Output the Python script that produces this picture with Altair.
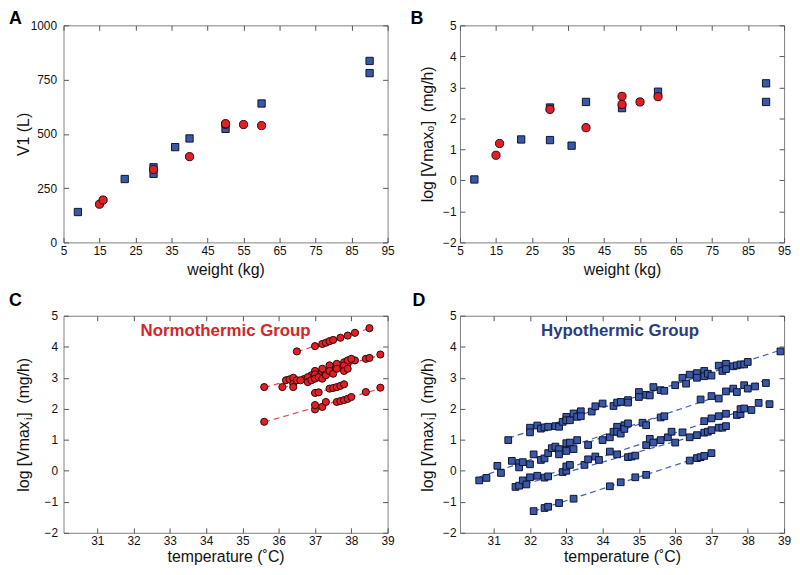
import altair as alt
import pandas as pd

FONT = "Liberation Sans"
RED = "#e41e25"
RED_EDGE = "#2a0808"
BLUE = "#3a58a6"
BLUE_EDGE = "#0d1433"
RED_LINE = "#e8474b"
BLUE_LINE = "#4060b8"
NAVY = "#2b3d7e"
RED_TXT = "#d4262c"
FRAME = "#808080"
TICK = "#555555"

W, H = 327, 219
NB = "\u00a0"

# ---------------- Panel A : V1 vs weight ----------------
a_hypo_weight = [9, 22, 30, 30, 36, 40, 50, 60, 90, 90]
a_hypo_v1 = [140, 292, 316, 346, 439, 479, 523, 640, 836, 780]
a_normo_weight = [15, 16, 30, 40, 50, 50, 55, 60]
a_normo_v1 = [176, 195, 336, 395, 544, 547, 543, 538]

# ---------------- Panel B : log Vmax0 vs weight ----------------
b_hypo_weight = [9, 22, 30, 30, 36, 40, 50, 60, 90, 90]
b_hypo_logv = [0.03, 1.32, 2.35, 1.30, 1.12, 2.53, 2.33, 2.86, 3.13, 2.53]
b_normo_weight = [15, 16, 30, 40, 50, 50, 55, 60]
b_normo_logv = [0.81, 1.19, 2.29, 1.70, 2.71, 2.45, 2.53, 2.70]

weight_ticks = [5, 15, 25, 35, 45, 55, 65, 75, 85, 95]
v1_ticks = [0, 250, 500, 750, 1000]
logv_ticks = [-2, -1, 0, 1, 2, 3, 4, 5]
temp_ticks = [31, 32, 33, 34, 35, 36, 37, 38, 39]

# ---------------- Panel C : normothermic subjects ----------------
n1_temp = [36.5, 37.0, 37.2, 37.3, 37.4, 37.5, 37.7, 37.9, 38.1, 38.5]
n1_logv = [3.85, 4.02, 4.09, 4.13, 4.18, 4.22, 4.29, 4.36, 4.45, 4.60]
n2_temp = [35.6, 36.2, 36.3, 36.4, 36.7, 36.9, 37.1, 37.3, 37.5, 37.7, 37.9, 38.1, 38.4, 38.5, 38.8]
n2_logv = [2.70, 2.92, 2.95, 3.00, 2.96, 3.08, 3.13, 3.18, 3.29, 3.34, 3.45, 3.56, 3.61, 3.64, 3.75]
n3_temp = [36.1, 36.4, 36.4, 36.5, 36.6, 36.8, 36.8, 36.9, 37.0, 37.0,
           37.0, 37.1, 37.2, 37.2, 37.3, 37.4, 37.4, 37.5, 37.6, 37.6,
           37.8, 37.8, 37.8, 37.9, 37.9, 38.0]
n3_logv = [2.70, 2.81, 2.70, 2.92, 2.92, 3.02, 2.86, 2.92, 3.22, 3.11,
           2.97, 3.02, 3.29, 2.97, 3.08, 3.40, 3.22, 3.13, 3.45, 3.29,
           3.50, 3.40, 3.22, 3.56, 3.29, 3.61]
n4_temp = [37.0, 37.1, 37.4, 37.5, 37.6, 37.7, 37.8]
n4_logv = [2.51, 2.53, 2.65, 2.67, 2.70, 2.74, 2.79]
n5_temp = [35.6, 37.0, 37.0, 37.2, 37.3, 37.6, 37.7, 37.8, 37.9, 38.0, 38.4, 38.8]
n5_logv = [1.58, 1.98, 2.12, 2.06, 2.22, 2.22, 2.25, 2.28, 2.32, 2.38, 2.54, 2.68]

# ---------------- Panel D : hypothermic subjects ----------------
h1_temp = [31.4, 32.0, 32.0, 32.2, 32.3, 32.4, 32.5, 32.7, 32.8, 32.9,
           33.0, 33.0, 33.1, 33.2, 33.3, 33.4, 33.4, 33.7, 33.8, 34.0,
           34.3, 34.4, 34.5, 34.7, 34.7, 35.0, 35.0, 35.2, 35.3, 35.4,
           35.6, 35.7, 36.0, 36.2, 36.3, 36.4, 36.6, 36.6, 36.8, 36.8,
           36.9, 37.0, 37.2, 37.3, 37.4, 37.4, 37.6, 37.7, 37.8, 37.9,
           38.0, 38.9]
h1_logv = [0.99, 1.39, 1.24, 1.46, 1.36, 1.40, 1.42, 1.44, 1.42, 1.58,
           1.74, 1.63, 1.63, 1.85, 1.74, 1.92, 1.76, 1.91, 2.08, 2.17,
           2.09, 2.20, 2.22, 2.28, 2.20, 2.54, 2.38, 2.45, 2.43, 2.70,
           2.60, 2.58, 2.76, 3.00, 2.81, 3.10, 3.15, 3.00, 3.22, 3.05,
           3.13, 3.07, 3.39, 3.22, 3.45, 3.28, 3.37, 3.40, 3.43, 3.43,
           3.51, 3.85]
h2_temp = [30.6, 30.8, 31.1, 31.2, 31.5, 31.7, 31.7, 31.8, 32.0, 32.1,
           32.3, 32.4, 32.5, 32.6, 32.7, 32.8, 32.8, 33.0, 33.0, 33.1,
           33.2, 33.3, 36.7, 37.0, 37.2, 37.4, 37.6, 37.7, 37.9, 38.0,
           38.2, 38.5]
h2_logv = [-0.31, -0.23, 0.16, -0.07, 0.32, 0.25, 0.11, 0.28, 0.21, 0.53,
           0.35, 0.40, 0.57, 0.73, 0.78, 0.70, 0.53, 0.89, 0.64, 0.91,
           0.70, 0.99, 2.30, 2.41, 2.33, 2.56, 2.65, 2.54, 2.76, 2.65,
           2.72, 2.83]
h3_temp = [33.6, 34.0, 34.2, 34.3, 34.4, 34.4, 34.5, 34.6, 34.6, 34.7, 35.1, 35.2, 35.6, 35.7]
h3_logv = [0.83, 0.99, 1.08, 1.26, 1.42, 1.26, 1.20, 1.47, 1.35, 1.53, 1.55, 1.47, 1.72, 1.76]
h4_temp = [32.0, 32.2, 32.4, 32.5, 32.9, 33.0, 33.0, 33.1, 33.5, 33.6,
           33.8, 33.9, 34.2, 34.4, 35.2, 35.3, 35.4, 35.6, 35.8, 35.9,
           36.2, 36.8, 37.0, 37.2, 37.4, 37.7, 37.8, 37.8, 37.9, 38.1,
           38.3, 38.6]
h4_logv = [-0.21, -0.16, -0.22, -0.18, -0.04, 0.00, 0.14, 0.19, 0.19, 0.37,
           0.46, 0.35, 0.62, 0.53, 0.83, 1.03, 0.91, 0.99, 1.08, 1.26,
           1.24, 1.60, 1.69, 1.76, 1.84, 1.80, 1.83, 1.99, 2.01, 1.96,
           2.19, 2.15]
h5_temp = [31.6, 31.7, 31.8, 31.9, 34.7, 34.8, 34.9, 36.0, 36.4, 36.6, 36.8, 36.9, 37.0, 37.2, 37.3, 37.4]
h5_logv = [-0.52, -0.48, -0.31, -0.44, 0.44, 0.46, 0.49, 0.91, 1.08, 1.15, 1.23, 1.26, 1.31, 1.39, 1.39, 1.44]
h6_temp = [32.1, 32.4, 32.5, 32.8, 33.2, 34.2, 34.5, 34.9, 35.2, 36.4, 36.6, 36.7, 36.8, 37.0]
h6_logv = [-1.30, -1.20, -1.16, -1.04, -0.90, -0.50, -0.37, -0.21, -0.13, 0.33, 0.41, 0.44, 0.48, 0.57]


def subjects(pairs):
    frames = []
    for name, t, v in pairs:
        frames.append(pd.DataFrame({"s": name, "t": t, "v": v}))
    return pd.concat(frames, ignore_index=True)


df_c = subjects([("N1", n1_temp, n1_logv), ("N2", n2_temp, n2_logv), ("N3", n3_temp, n3_logv),
                 ("N4", n4_temp, n4_logv), ("N5", n5_temp, n5_logv)])
df_d = subjects([("H1", h1_temp, h1_logv), ("H2", h2_temp, h2_logv), ("H3", h3_temp, h3_logv),
                 ("H4", h4_temp, h4_logv), ("H5", h5_temp, h5_logv), ("H6", h6_temp, h6_logv)])

TITLE_SIZE = 16
# y-title of panels C and D: subscript "i" is drawn as its own small text in the gap
YT_HEAD = "log [Vmax"
YT_TAIL = "]" + NB + NB + "(mg/h)"
YT_C = YT_HEAD + NB + YT_TAIL
# Arial/Liberation advance widths (em/1000) for the characters used above
ADV = {"l": 222, "o": 556, "g": 556, " ": 278, NB: 278, "[": 278, "V": 667, "m": 833,
       "a": 556, "x": 500, "]": 278, "(": 333, "/": 278, "h": 556, ")": 333}


def text_w(s, size):
    return sum(ADV[c] for c in s) * size / 1000.0


def ax_bottom(values, title, title_y):
    return alt.Axis(orient="bottom", values=values, title=title, offset=-5, tickSize=5,
                    domain=False, grid=False, labelFlush=False, labelOverlap=False, format="d",
                    labelPadding=3, labelFontSize=12, labelFont=FONT, labelColor="#111111",
                    tickColor=TICK, titleFont=FONT, titleFontSize=TITLE_SIZE, titleFontWeight="normal",
                    titleColor="#111111", titleY=title_y, titleBaseline="top")


def ax_left(values, title, title_x, pad):
    return alt.Axis(orient="left", values=values, title=title, offset=-5, tickSize=5,
                    domain=False, grid=False, labelFlush=False, labelOverlap=False, format="d",
                    labelPadding=pad, labelFontSize=12, labelFont=FONT, labelColor="#111111",
                    tickColor=TICK, titleFont=FONT, titleFontSize=TITLE_SIZE, titleFontWeight="normal",
                    titleColor="#111111", titleX=title_x, titleY=H / 2, titleAngle=270,
                    titleAlign="center", titleBaseline="bottom")


def ax_top(values):
    return alt.Axis(orient="top", values=values, title=None, offset=-5, tickSize=5,
                    domain=False, grid=False, labels=False, tickColor=TICK)


def ax_right(values):
    return alt.Axis(orient="right", values=values, title=None, offset=-5, tickSize=5,
                    domain=False, grid=False, labels=False, tickColor=TICK)


def letter_mark(letter, dx, dy):
    return alt.Chart(pd.DataFrame({"letter": [letter]})).mark_text(
        font=FONT, fontSize=18, fontWeight="bold", color="#000000", align="left",
        baseline="alphabetic"
    ).encode(text="letter:N", x=alt.value(dx), y=alt.value(dy))


def subscript_mark(sub, title_x):
    total = text_w(YT_C, TITLE_SIZE)
    y_pos = H / 2 + total / 2 - text_w(YT_HEAD, TITLE_SIZE) - 0.8
    x_base = title_x + 5 - 0.21 * TITLE_SIZE
    return alt.Chart(pd.DataFrame({"sub": [sub]})).mark_text(
        font=FONT, fontSize=11, color="#111111", align="left", baseline="alphabetic", angle=270
    ).encode(text="sub:N", x=alt.value(x_base + 3.5), y=alt.value(y_pos))


def weight_panel(hw, hv, nw, nv, ydom, yticks, ytitle, title_x, pad, letter, dx):
    xs = alt.Scale(domain=[5, 95], nice=False, zero=False)
    ys = alt.Scale(domain=ydom, nice=False, zero=False)
    blue = alt.Chart(pd.DataFrame({"w": hw, "v": hv})).mark_square(
        size=54, filled=True, fill=BLUE, stroke=BLUE_EDGE, strokeWidth=1, opacity=1
    ).encode(
        x=alt.X("w:Q", scale=xs, axis=ax_bottom(weight_ticks, "weight (kg)", 24)),
        y=alt.Y("v:Q", scale=ys, axis=ax_left(yticks, ytitle, title_x, pad)),
    )
    red = alt.Chart(pd.DataFrame({"w": nw, "v": nv})).mark_circle(
        size=68, filled=True, fill=RED, stroke=RED_EDGE, strokeWidth=1, opacity=1
    ).encode(
        x=alt.X("w:Q", scale=xs, axis=ax_top(weight_ticks)),
        y=alt.Y("v:Q", scale=ys, axis=ax_right(yticks)),
    )
    return alt.layer(blue, red, letter_mark(letter, dx, -1)).resolve_axis(
        x="independent", y="independent").properties(width=W, height=H)


def temp_panel(df, shape, fill, edge, line_color, size, group, group_color, text_x, pad,
               title_x, letter, dx):
    xs = alt.Scale(domain=[30.07, 39], nice=False, zero=False)
    ys = alt.Scale(domain=[-2, 5], nice=False, zero=False)
    lines = alt.Chart(df).transform_regression("t", "v", groupby=["s"]).mark_line(
        color=line_color, strokeDash=[6, 4], strokeWidth=1.2
    ).encode(
        x=alt.X("t:Q", scale=xs, axis=ax_top(temp_ticks)),
        y=alt.Y("v:Q", scale=ys, axis=ax_right(logv_ticks)),
        detail="s:N",
    )
    pts = alt.Chart(df).mark_point(
        shape=shape, size=size, filled=True, fill=fill, stroke=edge, strokeWidth=1, opacity=1
    ).encode(
        x=alt.X("t:Q", scale=xs, axis=ax_bottom(temp_ticks, "temperature (˚C)", 21)),
        y=alt.Y("v:Q", scale=ys, axis=ax_left(logv_ticks, YT_C, title_x, pad)),
    )
    label = alt.Chart(pd.DataFrame({"label": [group]})).mark_text(
        font=FONT, fontSize=17, fontWeight="bold", color=group_color, align="center",
        baseline="alphabetic"
    ).encode(text="label:N", x=alt.value(text_x), y=alt.value(20))
    return alt.layer(lines, pts, label, letter_mark(letter, dx, -10),
                     subscript_mark("i", title_x)).resolve_axis(
        x="independent", y="independent").properties(width=W, height=H)


panel_a = weight_panel(a_hypo_weight, a_hypo_v1, a_normo_weight, a_normo_v1, [0, 1000], v1_ticks,
                       "V1 (L)", -37, 7, "A", -55)
panel_b = weight_panel(b_hypo_weight, b_hypo_logv, b_normo_weight, b_normo_logv, [-2, 5], logv_ticks,
                       "log [Vmax₀]" + NB + NB + "(mg/h)", -30, 4, "B", -50)
panel_c = temp_panel(df_c, "circle", RED, RED_EDGE, RED_LINE, 52, "Normothermic Group", RED_TXT,
                     W / 2, 6, -37, "C", -55)
panel_d = temp_panel(df_d, "square", BLUE, BLUE_EDGE, BLUE_LINE, 46, "Hypothermic Group", NAVY,
                     W / 2 - 2, 4, -30, "D", -48)

chart = alt.concat(panel_a, panel_b, panel_c, panel_d, columns=2,
                   spacing={"row": 74, "column": 73}, bounds="flush").properties(
    padding={"left": 0, "top": -1, "right": 0, "bottom": 0}, background="white"
).configure_view(stroke=FRAME, strokeWidth=1)

chart.save("out.html", embed_options={"renderer": "svg", "actions": False})
